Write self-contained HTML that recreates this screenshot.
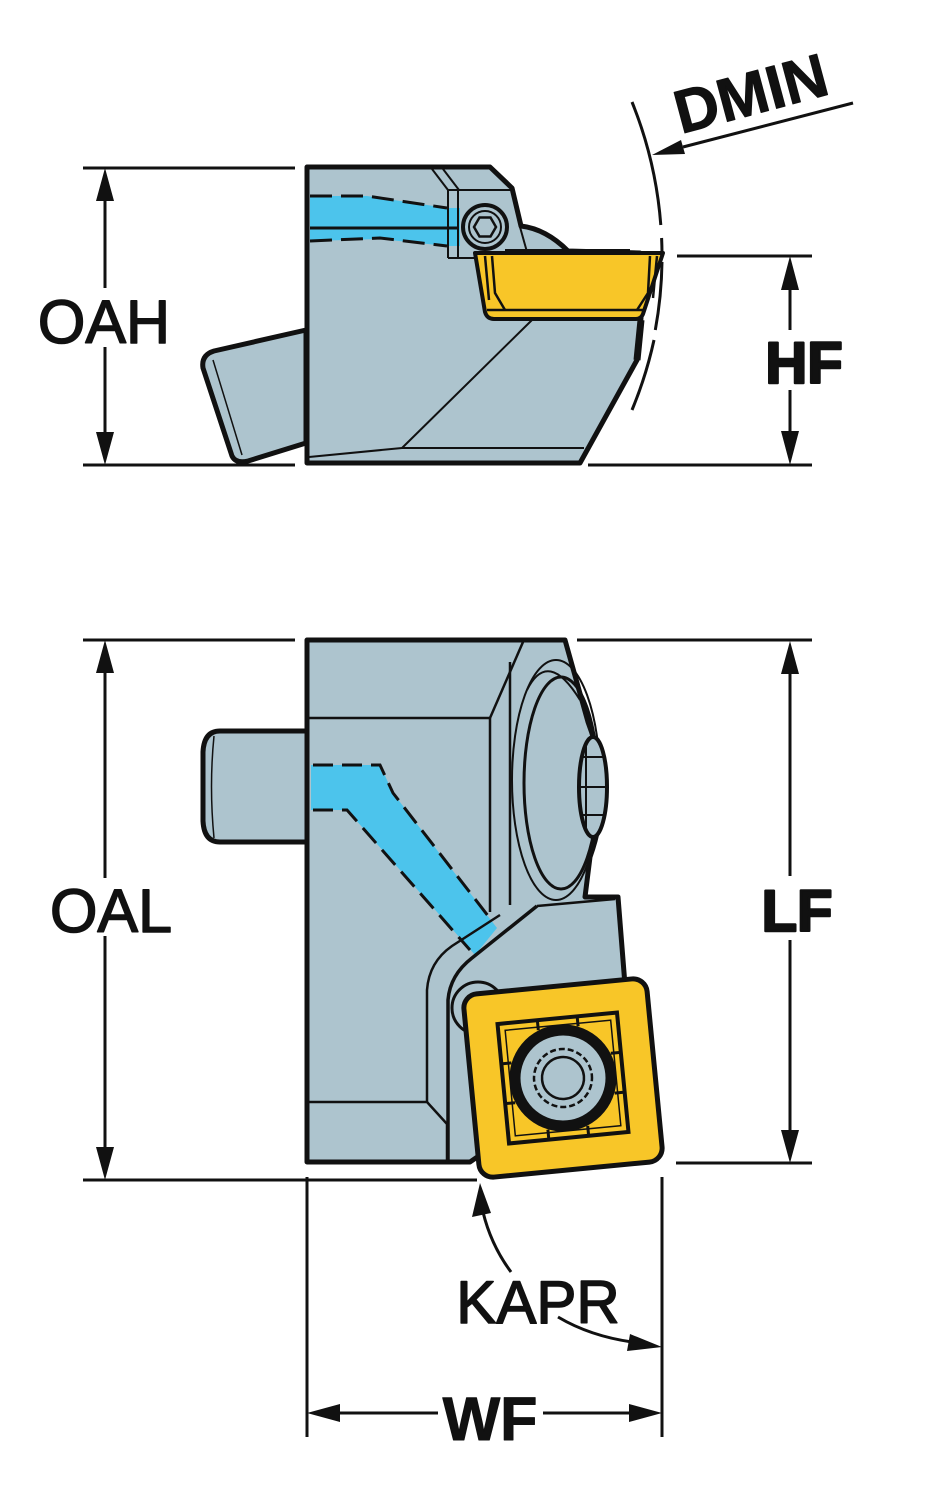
<!DOCTYPE html>
<html><head><meta charset="utf-8"><style>
html,body{margin:0;padding:0;background:#fff;}
svg{display:block;}
text{font-family:"Liberation Sans",Arial,sans-serif;fill:#111;stroke:#111;stroke-linejoin:round;}
</style></head><body>
<svg width="940" height="1500" viewBox="0 0 940 1500" xmlns="http://www.w3.org/2000/svg">
<g stroke="#111" fill="none" stroke-linecap="butt">
<!-- ===== TOP VIEW dimension lines ===== -->
<line x1="83" y1="168" x2="295" y2="168" stroke-width="3"/>
<line x1="83" y1="465" x2="295" y2="465" stroke-width="3"/>
<line x1="588" y1="465" x2="812" y2="465" stroke-width="3"/>
<line x1="677" y1="256" x2="812" y2="256" stroke-width="3"/>
<line x1="105" y1="198" x2="105" y2="288" stroke-width="3"/>
<line x1="105" y1="347" x2="105" y2="435" stroke-width="3"/>
<line x1="790" y1="288" x2="790" y2="330" stroke-width="3"/>
<line x1="790" y1="390" x2="790" y2="433" stroke-width="3"/>
</g>
<g fill="#111">
<polygon points="105,168 96,201 114,201"/>
<polygon points="105,465 96,432 114,432"/>
<polygon points="790,256 781,290 799,290"/>
<polygon points="790,465 781,431 799,431"/>
</g>

<!-- shank top view -->
<path d="M306,330 L214,351 Q201,355 203,368 L232,456 Q236,464 248,461 L306,443 Z" fill="#adc4ce" stroke="#111" stroke-width="5" stroke-linejoin="round"/>
<line x1="213" y1="360" x2="242" y2="455" stroke="#111" stroke-width="1.5"/>

<!-- body top view -->
<path d="M307,167 L490,167 L512,188 L521,226 Q546,229 568,251 L640,253 L641,318 L637,360 L580,463 L307,463 Z" fill="#adc4ce" stroke="#111" stroke-width="5" stroke-linejoin="round"/>

<!-- coolant top view -->
<path d="M310,196 L367,196 L447,208 L460,208 L460,246 L447,246 L380,239 L310,241 Z" fill="#4cc4ec"/>
<line x1="310" y1="228" x2="458" y2="228" stroke="#111" stroke-width="3"/>
<path d="M310,196 L367,196 L447,208" stroke="#111" stroke-width="3" fill="none" stroke-dasharray="22 9"/>
<path d="M310,241 L380,238 L447,246" stroke="#111" stroke-width="3" fill="none" stroke-dasharray="22 9"/>

<!-- clamp -->
<g stroke="#111" stroke-width="2" fill="none">
<line x1="432" y1="169" x2="448" y2="190"/>
<line x1="443" y1="169" x2="459" y2="190"/>
<line x1="448" y1="190" x2="448" y2="258"/>
<line x1="458" y1="190" x2="458" y2="258"/>
<line x1="448" y1="190" x2="511" y2="190"/>
<line x1="448" y1="258" x2="476" y2="258"/>
<line x1="520" y1="227" x2="527" y2="252"/>
<line x1="532" y1="320" x2="402" y2="448"/>
<line x1="402" y1="448" x2="584" y2="448"/>
<line x1="309" y1="457" x2="402" y2="448"/>
<line x1="505" y1="250" x2="630" y2="250"/>
</g>
<circle cx="485" cy="227" r="22" fill="#adc4ce" stroke="#111" stroke-width="4"/>
<circle cx="485" cy="227" r="16" fill="none" stroke="#111" stroke-width="2"/>
<polygon points="496,227 490.5,236.5 479.5,236.5 474,227 479.5,217.5 490.5,217.5" fill="none" stroke="#111" stroke-width="2.5"/>

<!-- insert top view -->
<path d="M475,253 L663,253 L643,314 Q641,319 636,319 L494,319 Q487,319 485,312 Z" fill="#f8c628" stroke="#111" stroke-width="4" stroke-linejoin="round"/>
<g stroke="#111" stroke-width="2.5" fill="none">
<line x1="487" y1="310" x2="645" y2="310"/>
<path d="M492,256 L495,293 L505,310"/>
<path d="M485,256 L489,300"/>
<path d="M650,256 L648,293 L637,310"/>
<path d="M657,256 L653,298"/>
</g>
<path d="M641,320 L637,360" stroke="#111" stroke-width="7"/>

<!-- DMIN arc -->
<g stroke="#111" stroke-width="3" fill="none">
<path d="M632,102 A410,410 0 0,1 660.8,225"/>
<path d="M661.6,238 A410,410 0 0,1 662,253"/>
<path d="M662,262 A410,410 0 0,1 655.3,330"/>
<path d="M654,340 A410,410 0 0,1 632,410"/>
<line x1="853" y1="103" x2="683" y2="147"/>
</g>
<polygon points="652,155 685,154 681,140" fill="#111"/>

<!-- ===== BOTTOM VIEW dimension lines ===== -->
<g stroke="#111" fill="none" stroke-width="3">
<line x1="83" y1="640" x2="295" y2="640"/>
<line x1="577" y1="640" x2="812" y2="640"/>
<line x1="83" y1="1180" x2="477" y2="1180"/>
<line x1="676" y1="1163" x2="812" y2="1163"/>
<line x1="105" y1="670" x2="105" y2="878"/>
<line x1="105" y1="936" x2="105" y2="1150"/>
<line x1="790" y1="671" x2="790" y2="876"/>
<line x1="790" y1="940" x2="790" y2="1133"/>
<line x1="307" y1="1177" x2="307" y2="1437"/>
<line x1="662" y1="1177" x2="662" y2="1437"/>
<line x1="337" y1="1413" x2="438" y2="1413"/>
<line x1="543" y1="1413" x2="632" y2="1413"/>
<path d="M483,1212 Q491,1245 511,1272"/>
<path d="M558,1317 Q590,1336 632,1342"/>
</g>
<g fill="#111">
<polygon points="105,640 96,673 114,673"/>
<polygon points="105,1180 96,1147 114,1147"/>
<polygon points="790,641 781,674 799,674"/>
<polygon points="790,1163 781,1130 799,1130"/>
<polygon points="307,1413 340,1404 340,1422"/>
<polygon points="662,1413 629,1404 629,1422"/>
<polygon points="480,1183 472,1217 491,1213"/>
<polygon points="662,1347 630,1334 627,1351"/>
</g>

<!-- shank bottom view -->
<path d="M307,731 L220,731 Q204,731 203,752 L203,821 Q204,842 220,842 L307,842" fill="#adc4ce" stroke="#111" stroke-width="5" stroke-linejoin="round"/>
<path d="M214,736 Q209,786 214,838" stroke="#111" stroke-width="1.5" fill="none"/>

<!-- body bottom view -->
<path d="M307,640 L565,640 L588,722 Q614,790 590,857 L585,897 L618,897 L625,985 L560,1100 L470,1162 L307,1162 Z" fill="#adc4ce" stroke="#111" stroke-width="5" stroke-linejoin="round"/>

<!-- coolant bottom view -->
<path d="M311,765 L380,765 L393,793 L497,928 L475,955 L347,810 L311,810 Z" fill="#4cc4ec"/>
<path d="M313,765 L380,765 L393,793 L492,921" stroke="#111" stroke-width="3" fill="none" stroke-dasharray="20 9"/>
<path d="M313,810 L347,810 L470,950" stroke="#111" stroke-width="3" fill="none" stroke-dasharray="20 9"/>

<!-- inner lines bottom view -->
<g stroke="#111" stroke-width="2.5" fill="none">
<line x1="309" y1="718" x2="490" y2="718"/>
<line x1="490" y1="718" x2="523" y2="642"/>
<line x1="490" y1="718" x2="490" y2="912"/>
<line x1="510" y1="662" x2="510" y2="905"/>
<path d="M309,1102 L427,1102 L447,1124 L447,1162"/>
<path d="M427,1102 L427,990 Q429,962 452,946 L500,915"/>
<line x1="537" y1="906" x2="615" y2="899"/>
</g>
<path d="M448,1160 L448,1000 Q450,975 472,958 L537,906" stroke="#111" stroke-width="3.5" fill="none"/>

<!-- dome -->
<ellipse cx="556" cy="780" rx="44" ry="120" fill="none" stroke="#111" stroke-width="2"/>
<ellipse cx="561" cy="783" rx="37" ry="106" fill="none" stroke="#111" stroke-width="3"/>
<path d="M527,690 Q548,648 580,700" stroke="#111" stroke-width="2" fill="none"/>
<ellipse cx="593" cy="787" rx="14" ry="50" fill="#adc4ce" stroke="#111" stroke-width="4"/>
<g stroke="#111" stroke-width="2" fill="none">
<line x1="586" y1="745" x2="586" y2="830"/>
<line x1="583" y1="757" x2="603" y2="757"/>
<line x1="581" y1="787" x2="605" y2="787"/>
<line x1="583" y1="815" x2="603" y2="815"/>
</g>

<!-- boss behind insert -->
<ellipse cx="478" cy="1008" rx="26" ry="26" fill="#adc4ce" stroke="#111" stroke-width="3"/>

<!-- insert bottom view -->
<g transform="translate(563,1078) rotate(-5.5)">
<rect x="-92" y="-92" width="184" height="184" rx="14" fill="#f8c628" stroke="#111" stroke-width="5"/>
<rect x="-60" y="-60" width="120" height="120" fill="#f8c628" stroke="#111" stroke-width="4"/>
<rect x="-53" y="-53" width="106" height="106" fill="none" stroke="#111" stroke-width="1.5"/>
<g stroke="#111" stroke-width="3">
<line x1="-20" y1="-60" x2="-20" y2="-50"/><line x1="20" y1="-60" x2="20" y2="-50"/>
<line x1="-20" y1="60" x2="-20" y2="50"/><line x1="20" y1="60" x2="20" y2="50"/>
<line x1="-60" y1="-20" x2="-50" y2="-20"/><line x1="-60" y1="20" x2="-50" y2="20"/>
<line x1="60" y1="-20" x2="50" y2="-20"/><line x1="60" y1="20" x2="50" y2="20"/>
</g>
<circle cx="0" cy="0" r="48" fill="#adc4ce" stroke="#111" stroke-width="11"/>
<circle cx="0" cy="0" r="29" fill="none" stroke="#111" stroke-width="2.5" stroke-dasharray="6 3"/>
<circle cx="0" cy="0" r="21" fill="#adc4ce" stroke="#111" stroke-width="2.5"/>
</g>

<!-- labels -->
<text x="104" y="343" font-size="61" text-anchor="middle" stroke-width="1.5">OAH</text>
<text x="804" y="383" font-size="58" font-weight="bold" text-anchor="middle" stroke-width="2.5">HF</text>
<text transform="translate(681,134) rotate(-15)" font-size="61" font-weight="bold" stroke-width="1">DMIN</text>
<text x="111" y="932" font-size="61" text-anchor="middle" stroke-width="1.5">OAL</text>
<text x="797" y="931" font-size="58" font-weight="bold" text-anchor="middle" stroke-width="2.5">LF</text>
<text x="538" y="1323" font-size="60" text-anchor="middle" stroke-width="1.5">KAPR</text>
<text x="490" y="1440" font-size="61" font-weight="bold" text-anchor="middle" stroke-width="1">WF</text>
</svg>
</body></html>
